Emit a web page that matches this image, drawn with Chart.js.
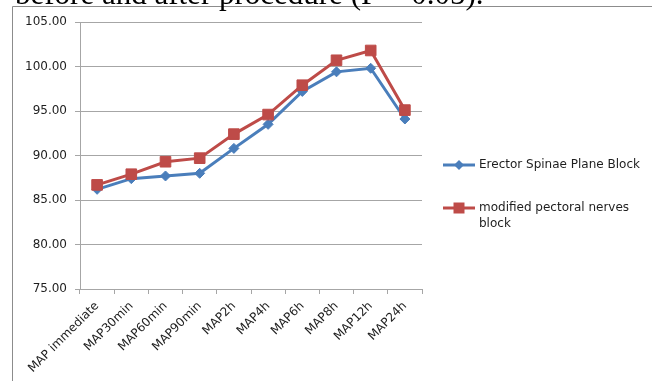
<!DOCTYPE html>
<html>
<head>
<meta charset="utf-8">
<script src="https://cdn.jsdelivr.net/npm/chart.js@4/dist/chart.umd.min.js"></script>
<style>
  html, body { margin: 0; padding: 0; background: #fff; }
  #wrap { position: relative; width: 652px; height: 381px; overflow: hidden; }
  canvas { display: block; }
</style>
</head>
<body>
<div id="wrap"><canvas id="c" width="652" height="381"></canvas></div>
<script>
// Mean arterial pressure at each time point
const categories = ['MAP immediate', 'MAP30min', 'MAP60min', 'MAP90min', 'MAP2h', 'MAP4h', 'MAP6h', 'MAP8h', 'MAP12h', 'MAP24h'];
const espValues = [86.2, 87.4, 87.7, 88.0, 90.8, 93.5, 97.2, 99.4, 99.8, 94.1];
const pecsValues = [86.7, 87.9, 89.3, 89.7, 92.4, 94.6, 97.9, 100.7, 101.8, 95.1];
const seriesNames = ['Erector Spinae Plane Block', 'modified pectoral nerves block'];
const yTicks = [75, 80, 85, 90, 95, 100, 105];
const captionText = 'before and after procedure (P = 0.05).';

const BLUE = '#4a7ebb';
const RED = '#be4b48';
const GRID = '#a6a6a6';
const TEXT = '#1e1e1e';
const FONT = 'DejaVu Sans';

// Frame, caption line and a legend with wrapped labels
const decorations = {
  id: 'decorations',
  beforeDraw(chart) {
    const ctx = chart.ctx;
    ctx.save();
    ctx.strokeStyle = '#8c8c8c';
    ctx.lineWidth = 1;
    ctx.beginPath();
    ctx.moveTo(12.5, 381);
    ctx.lineTo(12.5, 6.5);
    ctx.lineTo(652, 6.5);
    ctx.stroke();
    ctx.fillStyle = '#000';
    ctx.font = '31px "Liberation Serif"';
    ctx.textBaseline = 'alphabetic';
    ctx.textAlign = 'left';
    ctx.fillText(captionText, 15, 3.5);
    ctx.restore();
  },
  afterDraw(chart) {
    const ctx = chart.ctx;
    ctx.save();
    ctx.font = '12px "' + FONT + '"';
    ctx.textBaseline = 'middle';
    ctx.textAlign = 'left';
    const lineX0 = 443, lineX1 = 475, textX = 479, maxW = 170;
    const rows = [165, 208];
    chart.data.datasets.forEach((ds, i) => {
      const y = rows[i];
      ctx.strokeStyle = ds.borderColor;
      ctx.lineWidth = 3;
      ctx.beginPath();
      ctx.moveTo(lineX0, y);
      ctx.lineTo(lineX1, y);
      ctx.stroke();
      const cx = (lineX0 + lineX1) / 2;
      ctx.fillStyle = ds.pointBackgroundColor;
      ctx.beginPath();
      if (ds.pointStyle === 'rectRot') {
        const r = 5;
        ctx.moveTo(cx, y - r); ctx.lineTo(cx + r, y); ctx.lineTo(cx, y + r); ctx.lineTo(cx - r, y);
        ctx.closePath();
      } else {
        ctx.rect(cx - 5.5, y - 5.5, 11, 11);
      }
      ctx.fill();
      // wrap the label into lines that fit
      const words = ds.label.split(' ');
      const lines = [];
      let cur = '';
      words.forEach(w => {
        const t = cur ? cur + ' ' + w : w;
        if (ctx.measureText(t).width > maxW && cur) { lines.push(cur); cur = w; } else { cur = t; }
      });
      lines.push(cur);
      ctx.fillStyle = TEXT;
      lines.forEach((ln, k) => ctx.fillText(ln, textX, y + k * 16));
    });
    ctx.restore();
  }
};

new Chart(document.getElementById('c'), {
  type: 'line',
  data: {
    labels: categories,
    datasets: [
      {
        label: seriesNames[0],
        data: espValues,
        borderColor: BLUE,
        backgroundColor: BLUE,
        pointBackgroundColor: BLUE,
        pointBorderColor: BLUE,
        pointStyle: 'rectRot',
        pointRadius: 5,
        pointBorderWidth: 1,
        borderWidth: 3,
        tension: 0,
        order: 2
      },
      {
        label: seriesNames[1],
        data: pecsValues,
        borderColor: RED,
        backgroundColor: RED,
        pointBackgroundColor: RED,
        pointBorderColor: RED,
        pointStyle: 'rect',
        pointRadius: 7.5,
        pointBorderWidth: 1,
        borderWidth: 3,
        tension: 0,
        order: 1
      }
    ]
  },
  options: {
    responsive: false,
    animation: false,
    devicePixelRatio: 1,
    layout: { padding: { top: 22, right: 230, bottom: 0, left: 0 } },
    plugins: {
      legend: { display: false },
      tooltip: { enabled: false },
      title: { display: false }
    },
    scales: {
      x: {
        offset: true,
        grid: { drawOnChartArea: false, drawTicks: true, tickLength: 5, color: GRID, offset: true },
        border: { display: true, color: GRID, width: 1 },
        ticks: {
          minRotation: 45, maxRotation: 45, autoSkip: false,
          color: TEXT, font: { family: FONT, size: 12 }, padding: 5
        },
        afterFit(scale) { scale.height = 92; }
      },
      y: {
        min: yTicks[0],
        max: yTicks[yTicks.length - 1],
        afterBuildTicks(scale) { scale.ticks = yTicks.map(v => ({ value: v })); },
        grid: { color: GRID, tickLength: 5, drawTicks: true },
        border: { display: true, color: GRID, width: 1 },
        ticks: {
          color: TEXT, font: { family: FONT, size: 12 }, padding: 8,
          callback: v => Number(v).toFixed(2)
        },
        afterFit(scale) { scale.width = 80; }
      }
    }
  },
  plugins: [decorations]
});
</script>
</body>
</html>
